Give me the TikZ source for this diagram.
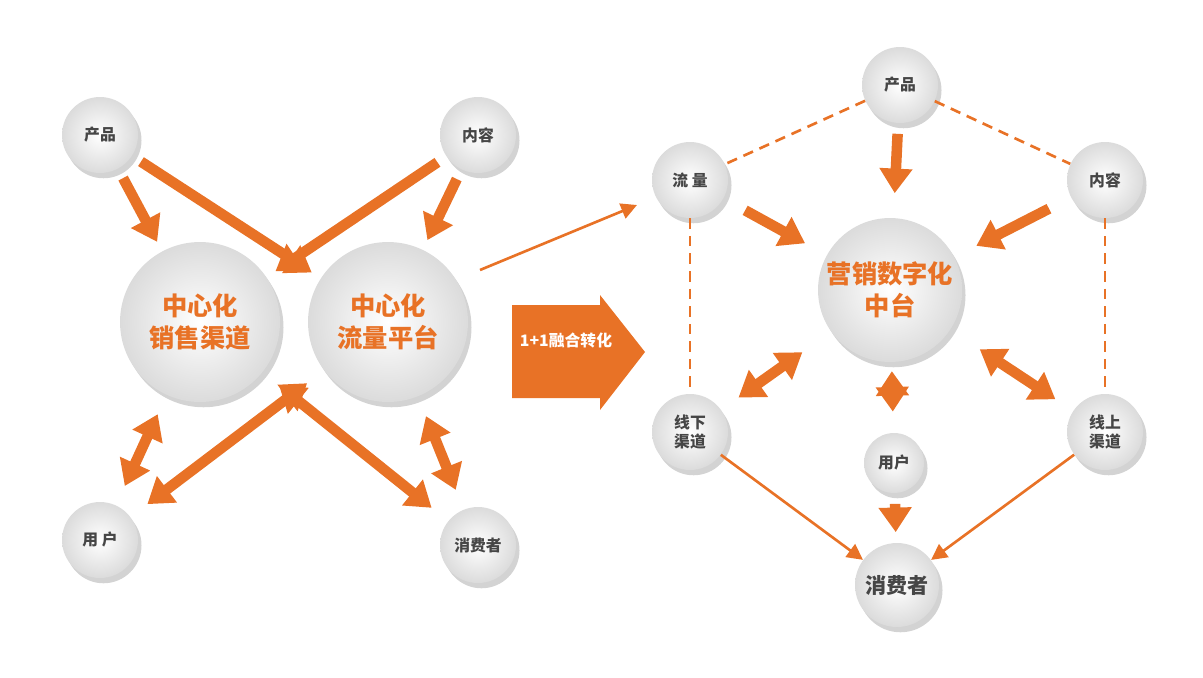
\documentclass[tikz,border=0pt]{standalone}
\usepackage{fontspec}
\setmainfont{Noto Sans CJK SC}
\usetikzlibrary{arrows.meta,shadows}
\definecolor{orng}{RGB}{232,114,38}
\definecolor{txtg}{RGB}{70,70,70}

\begin{document}
\begin{tikzpicture}[x=0.02cm,y=-0.02cm,
    ball/.style={circle,inner sep=0pt,shading=radial,inner color=white,outer color=gray!28,
      drop shadow={shadow xshift=2pt,shadow yshift=-3pt,opacity=0.35},font=\bfseries\small,text=txtg,align=center},
    small/.style={ball,minimum size=1.52cm},
    big/.style={ball,font=\bfseries\Large,text=orng},
    fat/.style={draw=orng,line width=6pt,-{Triangle[length=14pt,width=18pt]},shorten >=6pt,shorten <=6pt},
    fatboth/.style={fat,{Triangle[length=14pt,width=18pt]}-{Triangle[length=14pt,width=18pt]},shorten >=12pt,shorten <=12pt},
    thin/.style={draw=orng,line width=1.5pt,-{Triangle[length=9pt,width=9pt]}},
    dashline/.style={draw=orng,line width=1.5pt,dash pattern=on 6pt off 4pt}]
  \useasboundingbox (0,0) rectangle (1203,677);
  % left part
  \node[small] (l_prod) at (100,135) {产品};
  \node[small] (l_cont) at (478,135) {内容};
  \node[big,minimum size=3.2cm] (l_sale) at (200,322) {中心化\\销售渠道};
  \node[big,minimum size=3.2cm] (l_flow) at (388,322) {中心化\\流量平台};
  \node[small] (l_user) at (100,540) {用 户};
  \node[small] (l_cons) at (478,545) {消费者};

  \draw[fat] (l_prod) -- (l_sale);
  \draw[fat] (l_prod) -- (l_flow);
  \draw[fat] (l_cont) -- (l_sale);
  \draw[fat] (l_cont) -- (l_flow);
  \draw[fatboth] (l_sale) -- (l_user);
  \draw[fatboth] (l_flow) -- (l_user);
  \draw[fatboth] (l_sale) -- (l_cons);
  \draw[fatboth] (l_flow) -- (l_cons);

  % middle
  \fill[orng] (512,305) -- (600,305) -- (600,295) -- (645,352) -- (600,410) -- (600,398) -- (512,398) -- cycle;
  \node[text=white,font=\bfseries\small] (merge) at (566,340) {1+1融合转化};
  \coordinate (t_a) at (480,270);
  \coordinate (t_b) at (637,205);
  \draw[thin] (t_a) -- (t_b);

  % right part
  \node[small] (r_prod) at (900,85) {产品};
  \node[small] (r_flow) at (690,180) {流 量};
  \node[small] (r_cont) at (1105,180) {内容};
  \node[big,minimum size=2.88cm] (r_mid) at (890,290) {营销数字化\\中台};
  \node[small] (r_off) at (690,432) {线下\\渠道};
  \node[small,minimum size=1.2cm] (r_user) at (894,463) {用户};
  \node[small] (r_on) at (1105,432) {线上\\渠道};
  \node[small,minimum size=1.68cm,font=\bfseries\large] (r_cons) at (897,585) {消费者};

  \draw[dashline] (r_prod) -- (r_flow);
  \draw[dashline] (r_prod) -- (r_cont);
  \draw[dashline] (r_flow) -- (r_off);
  \draw[dashline] (r_cont) -- (r_on);
  \draw[thin] (r_off) -- (r_cons);
  \draw[thin] (r_on) -- (r_cons);

  \draw[fat,shorten >=14pt] (r_prod) -- (r_mid);
  \draw[fat,shorten >=14pt,shorten <=14pt] (r_flow) -- (r_mid);
  \draw[fat,shorten >=14pt,shorten <=14pt] (r_cont) -- (r_mid);
  \draw[fatboth,shorten >=20pt] (r_off) -- (r_mid);
  \draw[fatboth,shorten >=20pt] (r_on) -- (r_mid);
  \draw[fatboth,shorten >=5pt] (r_user) -- (r_mid);
  \draw[fat] (r_user) -- (r_cons);
\end{tikzpicture}
\end{document}
